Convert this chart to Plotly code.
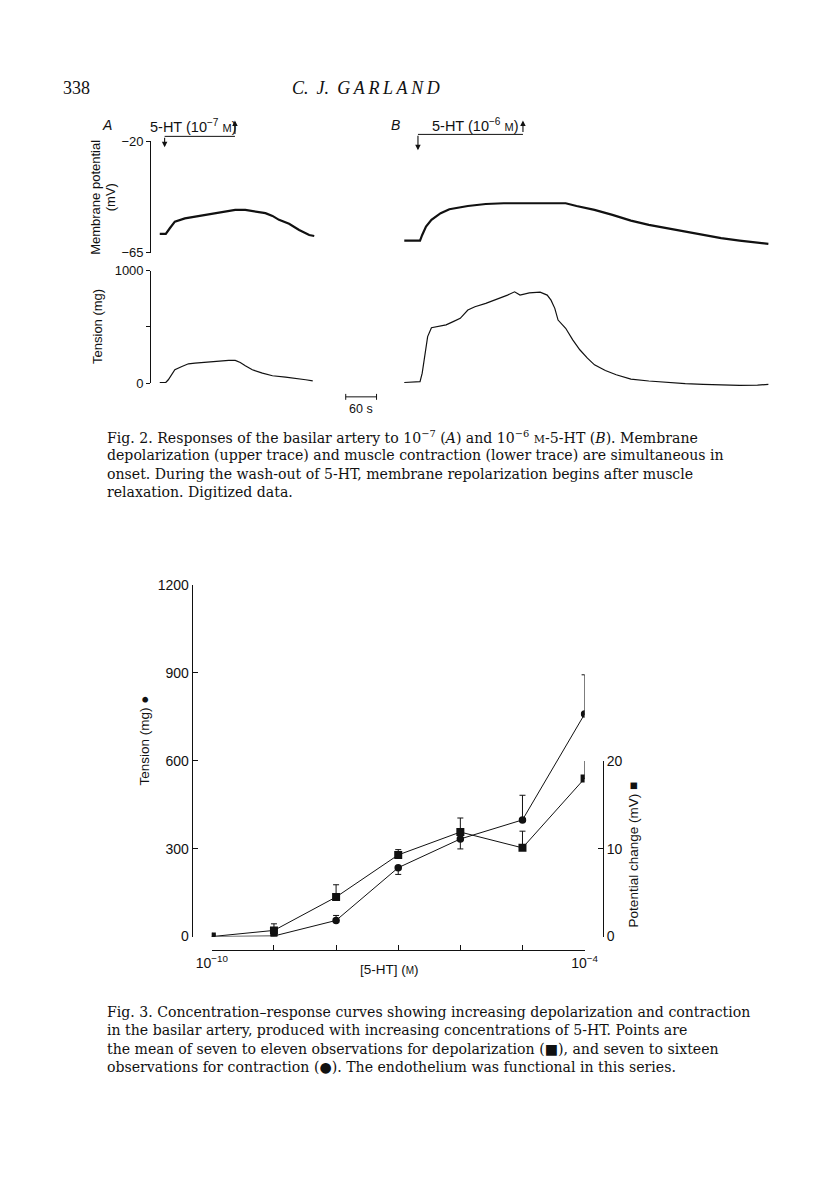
import plotly.graph_objects as go

W, H = 816, 1200


def px(x):
    return x / W


def py(y):
    return 1 - y / H


a_pot_time = [19, 31, 39, 49, 69, 96, 123, 149, 169, 189, 209, 229, 243, 256, 276, 296, 316, 326]
a_pot_mv = [-57.4, -57.4, -55.1, -52.4, -51.1, -50.1, -49.3, -48.4, -47.7, -47.7, -48.4, -49.0,
            -50.1, -51.7, -53.3, -55.8, -57.8, -58.2]
a_ten_time = [19, 31, 36, 43, 49, 63, 76, 89, 109, 136, 156, 169, 179, 189, 203, 223, 243, 269, 289, 309, 323]
a_ten_mg = [5, 5, 29, 73, 118, 147, 171, 177, 186, 195, 201, 201, 183, 154, 118, 88, 65, 53, 38, 29, 20]

# ---- Fig. 2B (10^-6 M 5-HT) ----
b_pot_time = [20, 49, 53, 60, 70, 87, 103, 137, 170, 203, 237, 270, 303, 317, 337, 370, 403, 437,
              470, 503, 537, 570, 603, 637, 670, 690]
b_pot_mv = [-60.1, -60.1, -57.8, -54.4, -51.7, -49.0, -47.4, -46.1, -45.3, -45.0, -45.0, -45.0,
            -44.8, -45.0, -46.1, -47.7, -49.7, -52.0, -53.7, -55.1, -56.4, -57.8, -59.1, -60.1,
            -60.9, -61.4]
b_ten_time = [20, 37, 49, 53, 58, 63, 70, 83, 97, 110, 123, 137, 150, 170, 190, 210, 223, 233, 250,
              270, 283, 290, 297, 303, 317, 330, 343, 357, 370, 390, 410, 437, 470, 503, 537, 570,
              603, 637, 670, 690]
b_ten_mg = [5, 12, 12, 88, 236, 413, 492, 501, 517, 546, 575, 649, 678, 708, 743, 782, 811, 782,
            802, 808, 782, 737, 664, 560, 487, 384, 296, 221, 162, 112, 74, 35, 18, 5, -6, -12,
            -18, -21, -18, -12]

# ---- Fig. 3 concentration-response ----
conc = [1e-10, 1e-9, 1e-8, 1e-7, 1e-6, 1e-5, 1e-4]
tension_mg = [0, 2, 55, 235, 333, 398, 759]
tension_err_up = [0, 0, 17, 0, 0, 84, 134]
tension_err_down = [0, 0, 0, 23, 34, 0, 0]
potential_mv = [0, 0.7, 4.5, 9.3, 11.9, 10.1, 18.0]
potential_err_up = [0, 0.75, 1.4, 0.6, 1.6, 1.9, 3.1]

conc_tickvals = [1e-10, 1e-9, 1e-8, 1e-7, 1e-6, 1e-5, 1e-4]
conc_ticktext = ["10<sup>\u221210</sup>", "", "", "", "", "", "10<sup>\u22124</sup>"]

caption2 = [
    "Fig. 2. Responses of the basilar artery to 10<sup>\u22127</sup> (<i>A</i>) and 10<sup>\u22126</sup> "
    "<span style='font-size:11px'>M</span>-5-HT (<i>B</i>). Membrane",
    "depolarization (upper trace) and muscle contraction (lower trace) are simultaneous in",
    "onset. During the wash-out of 5-HT, membrane repolarization begins after muscle",
    "relaxation. Digitized data.",
]
caption3 = [
    "Fig. 3. Concentration\u2013response curves showing increasing depolarization and contraction",
    "in the basilar artery, produced with increasing concentrations of 5-HT. Points are",
    "the mean of seven to eleven observations for depolarization (\u25a0), and seven to sixteen",
    "observations for contraction (\u25cf). The endothelium was functional in this series.",
]

SANS = "Liberation Sans, Arial, sans-serif"
SERIF = "Liberation Serif, Times New Roman, serif"
CAPTION = "DejaVu Serif, serif"
INK = "#111111"

fig = go.Figure()

# Fig. 2 traces
fig.add_trace(go.Scatter(x=a_pot_time, y=a_pot_mv, mode="lines", xaxis="x", yaxis="y",
                         line=dict(color=INK, width=2.2)))
fig.add_trace(go.Scatter(x=a_ten_time, y=a_ten_mg, mode="lines", xaxis="x", yaxis="y2",
                         line=dict(color=INK, width=1.2)))
fig.add_trace(go.Scatter(x=b_pot_time, y=b_pot_mv, mode="lines", xaxis="x2", yaxis="y3",
                         line=dict(color=INK, width=2.2)))
fig.add_trace(go.Scatter(x=b_ten_time, y=b_ten_mg, mode="lines", xaxis="x2", yaxis="y4",
                         line=dict(color=INK, width=1.2)))

# Fig. 3 traces
fig.add_trace(go.Scatter(
    x=conc, y=potential_mv, mode="lines+markers", xaxis="x3", yaxis="y6",
    line=dict(color=INK, width=1), marker=dict(symbol="square", size=8, color=INK),
    error_y=dict(type="data", symmetric=False, array=potential_err_up,
                 arrayminus=[0] * len(conc), color=INK, thickness=1, width=3)))
fig.add_trace(go.Scatter(
    x=conc, y=tension_mg, mode="lines+markers", xaxis="x3", yaxis="y5",
    line=dict(color=INK, width=1), marker=dict(symbol="circle", size=7.5, color=INK),
    error_y=dict(type="data", symmetric=False, array=tension_err_up,
                 arrayminus=tension_err_down, color=INK, thickness=1, width=3)))

axis_font = dict(family=SANS, size=13, color=INK)
hidden = dict(visible=False, showgrid=False, zeroline=False)

fig.update_layout(
    width=W, height=H, margin=dict(l=0, r=0, t=0, b=0),
    paper_bgcolor="white", plot_bgcolor="rgba(0,0,0,0)", showlegend=False,
    # Fig. 2 panel A
    xaxis=dict(hidden, domain=[px(131), px(317)], range=[0, 356]),
    yaxis=dict(domain=[py(240), py(127)], range=[-65, -20], anchor="free", position=px(131),
               showline=True, linecolor=INK, linewidth=1, showgrid=False, zeroline=False,
               ticks="outside", ticklen=4, tickcolor=INK, tickvals=[-20, -65],
               ticktext=["\u221220", "\u221265"], tickfont=axis_font),
    yaxis2=dict(domain=[py(372), py(258)], range=[0, 1000], anchor="free", position=px(131),
                showline=True, linecolor=INK, linewidth=1, showgrid=False, zeroline=False,
                ticks="outside", ticklen=4, tickcolor=INK, tickvals=[0, 500, 1000],
                ticktext=["0", "", "1000"], tickfont=axis_font),
    # Fig. 2 panel B (same scales as A, axes not drawn; tension range allows the
    # slight undershoot below baseline)
    xaxis2=dict(hidden, domain=[px(383.5), px(801)], range=[0, 740]),
    yaxis3=dict(hidden, domain=[py(240), py(127)], range=[-65, -20], anchor="x2"),
    yaxis4=dict(hidden, domain=[py(377.7), py(258)], range=[-50, 1000], anchor="x2"),
    # Fig. 3
    xaxis3=dict(type="log", domain=[px(195), px(582)], range=[-10, -4], anchor="free",
                position=py(947), showline=True, linecolor=INK, linewidth=1, showgrid=False,
                zeroline=False, ticks="inside", ticklen=5, tickcolor=INK,
                tickvals=conc_tickvals, ticktext=conc_ticktext,
                tickfont=dict(family=SANS, size=14, color=INK)),
    yaxis5=dict(domain=[py(933), py(576.5)], range=[0, 1200], anchor="free", position=px(174),
                showline=True, linecolor=INK, linewidth=1, showgrid=False, zeroline=False,
                ticks="inside", ticklen=5, tickcolor=INK, tickvals=[0, 300, 600, 900, 1200],
                tickfont=dict(family=SANS, size=14, color=INK)),
    yaxis6=dict(domain=[py(933), py(755)], range=[0, 20], anchor="free", position=px(601),
                side="right", showline=True, linecolor=INK, linewidth=1, showgrid=False,
                zeroline=False, ticks="inside", ticklen=5, tickcolor=INK, tickvals=[0, 10, 20],
                tickfont=dict(family=SANS, size=14, color=INK)),
)

ann = []


def text(x, y, s, size=13, family=SANS, anchor="center", angle=0, yanchor="middle"):
    ann.append(dict(x=px(x), y=py(y), xref="paper", yref="paper", text=s, showarrow=False,
                    xanchor=anchor, yanchor=yanchor, textangle=angle,
                    font=dict(family=family, size=size, color=INK)))


# page header
text(38, 73, "338", size=18, family=SERIF, anchor="left")
text(355, 73, "<i>C.\u2009 J.\u2009 G\u2009A\u2009R\u2009L\u2009A\u2009N\u2009D</i>", size=18, family=SERIF)

# Fig. 2 labels
text(86, 110, "<i>A</i>", size=14)
text(129, 111, "5-HT (10<sup>\u22127</sup> <span style='font-size:11px'>M</span>)", size=14.5,
     anchor="left")
text(386, 110, "<i>B</i>", size=14)
text(421, 110, "5-HT (10<sup>\u22126</sup> <span style='font-size:11px'>M</span>)", size=14.5,
     anchor="left")
text(74, 184, "Membrane potential", size=13, angle=-90)
text(90, 184, "(mV)", size=13, angle=-90)
text(77, 315, "Tension (mg)", size=13, angle=-90)
text(350, 398, "60 s", size=12.5)

# Fig. 3 labels
text(125, 734, "Tension (mg) \u25cf", size=13.5, angle=-90)
text(633, 850, "Potential change (mV) \u25a0", size=13.5, angle=-90)
text(379, 966, "[5-HT] (<span style='font-size:10px'>M</span>)", size=13.5)

for i, line in enumerate(caption2):
    text(84, 426.5 + i * 18.75, line, size=14.1, family=CAPTION, anchor="left")
for i, line in enumerate(caption3):
    text(84, 1009 + i * 18.75, line, size=14.1, family=CAPTION, anchor="left")

# 5-HT application markers (head x, head y, tail offset)
arrows = [(146, 133, -11), (219, 106, 15), (409, 136, -16), (518, 106, 13)]
for x, y, ay in arrows:
    ann.append(dict(x=px(x), y=py(y), xref="paper", yref="paper", ax=0, ay=ay, text="",
                    showarrow=True, arrowhead=2, arrowsize=1, arrowwidth=1.1, arrowcolor=INK))

shapes = [
    dict(type="line", xref="paper", yref="paper", x0=px(146), x1=px(219), y0=py(122), y1=py(122),
         line=dict(color=INK, width=1)),
    dict(type="line", xref="paper", yref="paper", x0=px(409), x1=px(518), y0=py(120), y1=py(120),
         line=dict(color=INK, width=1)),
    # 60 s scale bar
    dict(type="line", xref="paper", yref="paper", x0=px(334), x1=px(366), y0=py(386), y1=py(386),
         line=dict(color=INK, width=1)),
    dict(type="line", xref="paper", yref="paper", x0=px(334), x1=px(334), y0=py(383), y1=py(389),
         line=dict(color=INK, width=1)),
    dict(type="line", xref="paper", yref="paper", x0=px(366), x1=px(366), y0=py(383), y1=py(389),
         line=dict(color=INK, width=1)),
]

fig.update_layout(annotations=ann, shapes=shapes)

fig.write_html("out.html")
